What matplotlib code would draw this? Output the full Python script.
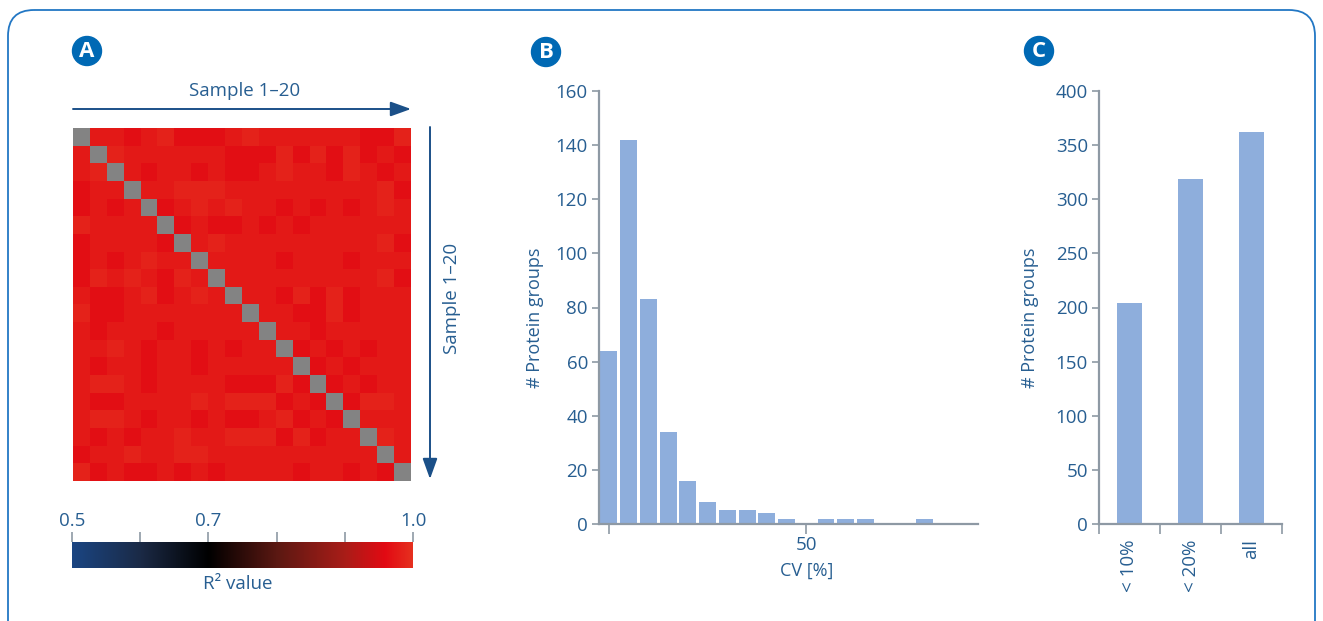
import numpy as np
import matplotlib
matplotlib.use('Agg')
import matplotlib.pyplot as plt
from matplotlib.colors import LinearSegmentedColormap
from matplotlib.patches import FancyBboxPatch, Circle

plt.rcParams['font.family'] = ['Open Sans', 'DejaVu Sans']

W, H = 1323, 621
TXT = '#275E91'
AXC = '#8E99A4'
BAR = '#8EAEDC'
BADGE = '#0069B4'
ARROW = '#1B5088'
FS = 13.5

# pairwise R² between the 20 samples (diagonal is masked out)
r2 = [
    [1.000, .975, .975, .963, .975, .985, .963, .963, .963, .975, .985, .975, .975, .975, .975, .975, .975, .963, .963, .985],
    [.975, 1.000, .985, .975, .975, .975, .975, .975, .975, .963, .963, .963, .985, .963, .985, .963, .985, .963, .975, .963],
    [.975, .985, 1.000, .975, .963, .975, .975, .963, .975, .963, .963, .975, .985, .975, .975, .963, .985, .975, .963, .975],
    [.963, .975, .975, 1.000, .975, .975, .985, .985, .985, .975, .975, .975, .975, .975, .975, .975, .975, .975, .985, .963],
    [.963, .975, .963, .975, 1.000, .963, .975, .985, .975, .985, .975, .975, .963, .975, .963, .975, .963, .975, .985, .975],
    [.985, .975, .975, .975, .975, 1.000, .963, .975, .963, .963, .975, .963, .975, .963, .975, .975, .975, .975, .975, .975],
    [.963, .975, .975, .975, .975, .963, 1.000, .975, .985, .975, .975, .975, .975, .975, .975, .975, .975, .975, .985, .963],
    [.963, .975, .963, .975, .985, .975, .975, 1.000, .975, .975, .975, .975, .963, .975, .975, .975, .963, .975, .975, .975],
    [.963, .985, .975, .985, .975, .963, .985, .975, 1.000, .975, .975, .975, .975, .975, .975, .975, .975, .975, .985, .963],
    [.975, .963, .963, .975, .985, .963, .975, .985, .975, 1.000, .975, .975, .963, .985, .963, .985, .963, .975, .975, .975],
    [.985, .963, .963, .975, .975, .975, .975, .975, .975, .975, 1.000, .975, .975, .963, .963, .985, .963, .975, .975, .975],
    [.975, .963, .975, .975, .975, .963, .975, .975, .975, .975, .975, 1.000, .975, .975, .963, .975, .975, .975, .975, .975],
    [.975, .975, .985, .975, .963, .975, .975, .963, .975, .963, .975, .975, 1.000, .963, .975, .963, .975, .963, .975, .975],
    [.975, .963, .975, .975, .963, .975, .975, .963, .975, .975, .975, .975, .975, 1.000, .963, .975, .963, .975, .975, .975],
    [.975, .985, .985, .975, .963, .975, .975, .975, .975, .963, .963, .963, .985, .963, 1.000, .963, .975, .963, .975, .975],
    [.975, .963, .963, .975, .975, .975, .975, .985, .975, .985, .985, .985, .963, .975, .963, 1.000, .963, .985, .985, .975],
    [.975, .985, .985, .975, .963, .975, .975, .963, .975, .963, .963, .975, .985, .963, .975, .963, 1.000, .975, .975, .975],
    [.975, .963, .975, .963, .975, .975, .985, .975, .975, .985, .985, .985, .963, .985, .963, .975, .975, 1.000, .985, .975],
    [.963, .975, .975, .985, .975, .975, .985, .985, .975, .975, .975, .975, .975, .975, .975, .975, .975, .975, 1.000, .975],
    [.985, .963, .975, .963, .963, .975, .963, .975, .963, .975, .975, .975, .975, .963, .975, .975, .963, .975, .963, 1.000],
]

# CV histogram (bin centres in %, counts)
cv_bins = [0, 5, 10, 15, 20, 25, 30, 35, 40, 45, 55, 60, 65, 80]
cv_counts = [64, 142, 83, 34, 16, 8, 5, 5, 4, 2, 2, 2, 2, 2]

# protein groups below CV threshold
cv_groups = ['< 10%', '< 20%', 'all']
cv_group_counts = [204, 319, 362]

fig = plt.figure(figsize=(W / 100, H / 100), dpi=100)


def px_axes(x0, y0, x1, y1, **kw):
    return fig.add_axes([x0 / W, 1 - y1 / H, (x1 - x0) / W, (y1 - y0) / H], **kw)


r2_cmap = LinearSegmentedColormap.from_list('r2', [
    (0.0, '#1A4582'), (0.2, '#1B2A46'), (0.4, '#000000'), (0.6, '#5A1812'),
    (0.8, '#A81D18'), (0.92, '#E20A13'), (1.0, '#E6301F')])
r2_cmap.set_bad('#838383')

# --- A: correlation heatmap
axA = px_axes(73, 128, 411, 481)
m = np.array(r2)
masked = np.ma.masked_where(np.eye(len(m), dtype=bool), m)
axA.imshow(masked, cmap=r2_cmap, vmin=0.5, vmax=1.0, aspect='auto', interpolation='nearest')
axA.axis('off')

# colour bar
axCb = px_axes(72, 542, 413, 568)
grad = np.linspace(0.5, 1.0, 512)[None, :]
axCb.imshow(grad, cmap=r2_cmap, vmin=0.5, vmax=1.0, aspect='auto',
            extent=[0.5, 1.0, 0, 1])
axCb.set_xlim(0.5, 1.0)
axCb.xaxis.tick_top()
axCb.set_xticks([0.5, 0.6, 0.7, 0.8, 0.9, 1.0])
axCb.set_xticklabels(['0.5', '', '0.7', '', '', '1.0'])
axCb.tick_params(axis='x', length=7, width=1.2, color=AXC, labelcolor=TXT,
                 labelsize=FS, pad=2)
axCb.set_yticks([])
for s in axCb.spines.values():
    s.set_visible(False)

# --- B: CV histogram
axB = px_axes(599, 91, 978, 524)
axB.bar(cv_bins, cv_counts, width=4.3, color=BAR)
axB.set_xlim(-2.5, 93.5)
axB.set_ylim(0, 160)
axB.set_yticks(range(0, 161, 20))
axB.set_xticks([0, 50])
axB.set_xticklabels(['', '50'])
axB.set_xlabel('CV [%]', fontsize=FS - 0.5, color=TXT)
axB.xaxis.set_label_coords(0.549, -0.088)
axB.set_ylabel('# Protein groups', fontsize=FS - 0.5, color=TXT)
axB.yaxis.set_label_coords(-0.145, 0.476)

# --- C: counts per CV threshold
axC = px_axes(1099, 91, 1282, 524)
axC.bar([0.5, 1.5, 2.5], cv_group_counts, width=0.42, color=BAR)
axC.set_xlim(0, 3)
axC.set_ylim(0, 400)
axC.set_yticks(range(0, 401, 50))
axC.set_xticks([0.5, 1.5, 2.5])
axC.set_xticklabels(cv_groups, rotation=90, va='top', ha='center')
axC.set_xticks([0, 1, 2, 3], minor=True)
axC.tick_params(axis='x', which='major', length=0, pad=11)
axC.tick_params(axis='x', which='minor', length=7, width=1.2, color=AXC)
axC.set_ylabel('# Protein groups', fontsize=FS - 0.5, color=TXT)
axC.yaxis.set_label_coords(-0.33, 0.476)

for ax in (axB, axC):
    for side in ('top', 'right'):
        ax.spines[side].set_visible(False)
    for side in ('left', 'bottom'):
        ax.spines[side].set_color(AXC)
        ax.spines[side].set_linewidth(1.6)
    ax.tick_params(labelsize=FS, labelcolor=TXT, color=AXC, width=1.2)
    ax.tick_params(axis='y', length=5, pad=3)
axB.tick_params(axis='x', length=7, pad=2)

# --- overlay in pixel coordinates: frame, badges, arrows, captions
ov = fig.add_axes([0, 0, 1, 1], zorder=10)
ov.set_xlim(0, W)
ov.set_ylim(H, 0)
ov.axis('off')
ov.patch.set_alpha(0)

ov.add_patch(FancyBboxPatch((8, 10), W - 16, 700,
                            boxstyle='round,pad=0,rounding_size=26',
                            fill=False, ec='#2277C4', lw=1.3))

for letter, cx, cy in [('A', 87, 51), ('B', 546, 52), ('C', 1039, 51)]:
    ov.add_patch(Circle((cx, cy), 14.5, color=BADGE))
    ov.text(cx, cy + 0.5, letter, color='white', fontsize=16, fontweight='bold',
            ha='center', va='center')

arrow_style = dict(arrowstyle='-|>,head_length=1.25,head_width=0.45',
                   color=ARROW, lw=1.4, shrinkA=0, shrinkB=0)
ov.annotate('', xy=(411, 109), xytext=(73, 109), arrowprops=arrow_style)
ov.annotate('', xy=(430, 479), xytext=(430, 127), arrowprops=arrow_style)
ov.text(245, 91, 'Sample 1–20', fontsize=FS, color=TXT, ha='center', va='center')
ov.text(452, 298, 'Sample 1–20', fontsize=FS, color=TXT, ha='center', va='center',
        rotation=90)
ov.text(238, 584, 'R² value', fontsize=FS, color=TXT, ha='center', va='center')

fig.savefig('out.png', dpi=100)
